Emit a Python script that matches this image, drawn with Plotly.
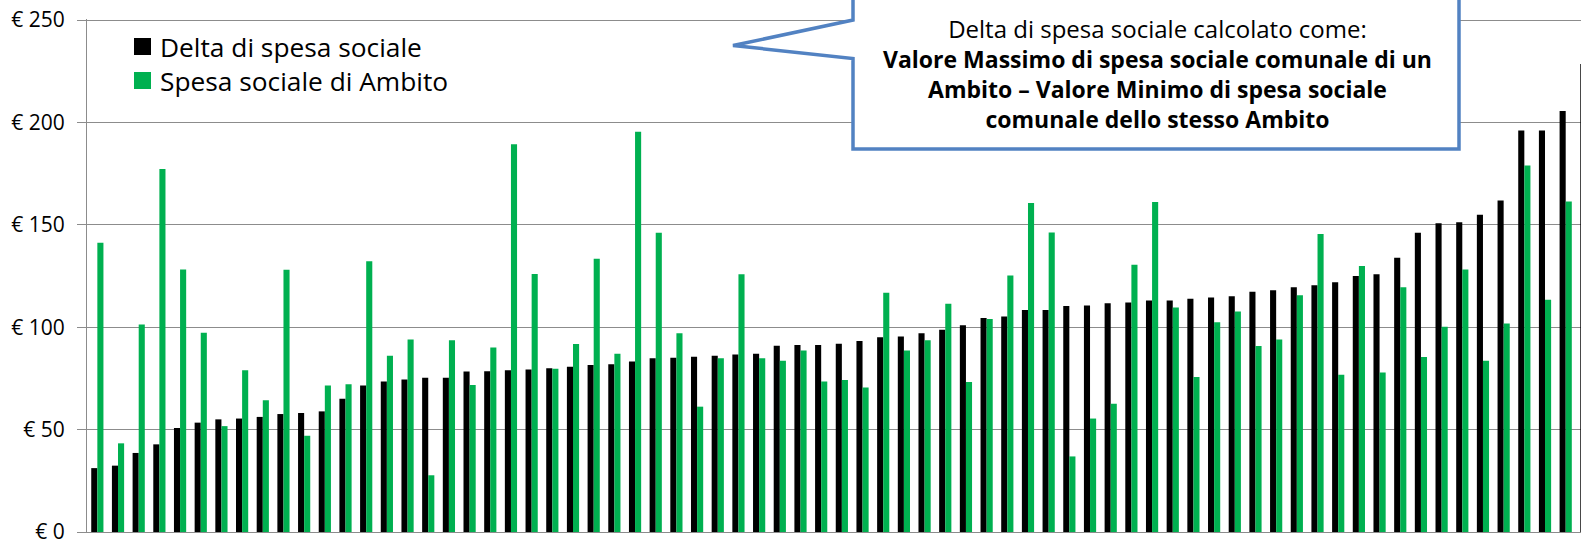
import plotly.graph_objects as go

# ---- data ----
ambiti = list(range(1, 74))
delta_spesa = [31.2, 32.4, 38.6, 42.8, 50.8, 53.4, 55.0, 55.4, 56.2, 57.6, 58.1, 58.9, 65.1, 71.5, 73.5, 74.5,
               75.3, 75.3, 78.4, 78.5, 79.0, 79.4, 80.0, 80.7, 81.5, 81.9, 83.2, 84.9, 85.1, 85.6, 86.1, 86.7, 87.1, 90.9, 91.3,
               91.3, 91.9, 93.3, 95.1, 95.5, 97.0, 98.7, 101.0, 104.5, 105.2, 108.4, 108.4, 110.4, 110.6, 111.7, 112.1, 113.1, 113.1, 113.9, 114.5,
               115.1, 117.3, 118.1, 119.5, 120.5, 122.0, 125.0, 125.8, 133.9, 146.1, 150.8, 151.3, 154.9, 161.9, 196.1, 196.1, 205.6, 228.5]
spesa_ambito = [141.3, 43.3, 101.3, 177.2, 128.2, 97.3, 51.7, 79.0, 64.3, 128.0, 47.0, 71.5, 72.1, 132.2, 86.1, 94.0,
                27.7, 93.6, 71.8, 90.1, 189.3, 126.0, 79.7, 91.8, 133.4, 87.1, 195.5, 146.1, 97.0, 61.2, 84.9, 125.8, 84.9, 83.6, 88.6,
                73.5, 74.2, 70.5, 116.8, 88.6, 93.6, 111.4, 73.2, 104.0, 125.2, 160.6, 146.3, 36.9, 55.4, 62.6, 130.5, 161.2, 109.6, 75.7, 102.4,
                107.7, 90.8, 94.0, 115.6, 145.5, 76.8, 129.9, 77.9, 119.5, 85.4, 100.2, 128.2, 83.6, 101.8, 179.0, 113.4, 161.4, None]
tick_vals = [0, 50, 100, 150, 200, 250]
tick_text = ["€ 0", "€ 50", "€ 100", "€ 150", "€ 200", "€ 250"]
series_names = ["Delta di spesa sociale", "Spesa sociale di Ambito"]
callout_title = "Delta di spesa sociale calcolato come:"
callout_body = ["Valore Massimo di spesa sociale comunale di un",
                "Ambito – Valore Minimo di spesa sociale",
                "comunale dello stesso Ambito"]

BLACK = "#000000"
GREEN = "#00B050"
GRID = "#8C8C8C"
BLUE = "#5282C2"
FONT = "Open Sans"

W, H = 1581, 540
X0, X1, Y0, Y1 = 87, 1581, 19, 532          # plot box in pixels
Y_MAX = 250.5
ML, MT, MR, MB = X0, Y0, W - X1, H - Y1


def px(x):
    return (x - X0) / (X1 - X0)


def py(y):
    return (Y1 - y) / (Y1 - Y0)


fig = go.Figure()
fig.add_trace(go.Bar(x=ambiti, y=delta_spesa, name=series_names[0], marker=dict(color=BLACK, line=dict(width=0))))
fig.add_trace(go.Bar(x=ambiti, y=spesa_ambito, name=series_names[1], marker=dict(color=GREEN, line=dict(width=0))))

# callout box
pts = [(853, -30), (853, 20), (733, 45.5), (853, 58.5), (853, 149), (1459, 149), (1459, -30)]
path = "M " + " L ".join(f"{px(a):.5f},{py(b):.5f}" for a, b in pts) + " Z"
shapes = [dict(type="path", path=path, xref="paper", yref="paper", fillcolor="white",
               line=dict(color=BLUE, width=3.5), layer="above")]

# manual legend swatches
sq = 17
legend_rows = [(46.5, BLACK), (80.5, GREEN)]
for yc, col in legend_rows:
    shapes.append(dict(type="rect", xref="paper", yref="paper",
                       x0=px(134), x1=px(134 + sq), y0=py(yc + sq / 2), y1=py(yc - sq / 2),
                       fillcolor=col, line=dict(width=0)))

callout_text = (f'<span style="font-size:24px">{callout_title}</span><br>'
                + "<br>".join(f"<b>{t}</b>" for t in callout_body))

annotations = [
    dict(text="<br>".join(series_names), x=px(158), y=py((legend_rows[0][0] + legend_rows[1][0]) / 2),
         xref="paper", yref="paper", xanchor="left", yanchor="middle", align="left", showarrow=False,
         font=dict(family=FONT, size=26.3, color="#000000")),
    dict(text=callout_text, x=px(1157), y=py(73.6), xref="paper", yref="paper",
         xanchor="center", yanchor="middle", align="center", showarrow=False,
         font=dict(family=FONT, size=23, color="#000000")),
]

fig.update_layout(
    width=W, height=H,
    margin=dict(l=ML, r=MR, t=MT, b=MB, pad=0, autoexpand=False),
    paper_bgcolor="white", plot_bgcolor="white",
    barmode="group", bargap=0.41, bargroupgap=0,
    showlegend=False,
    shapes=shapes, annotations=annotations,
    font=dict(family=FONT, color="#000000"),
)
fig.update_xaxes(type="category", range=[-0.5, 71.74], showticklabels=False, ticks="",
                 showgrid=False, showline=True, linecolor=GRID, linewidth=1, zeroline=False,
                 automargin=False)
fig.update_yaxes(range=[0, Y_MAX], tickvals=tick_vals, ticktext=tick_text, showgrid=True, gridcolor=GRID,
                 gridwidth=1, showline=True, linecolor=GRID, linewidth=1, ticks="outside", ticklen=9,
                 tickcolor=GRID, zeroline=False, tickfont=dict(family=FONT, size=21, color="#000000"),
                 ticklabelstandoff=8, ticklabeloverflow="allow", automargin=False)

fig.write_html("out.html", config={"displayModeBar": False},
               post_script="document.body.style.margin='0px';")
